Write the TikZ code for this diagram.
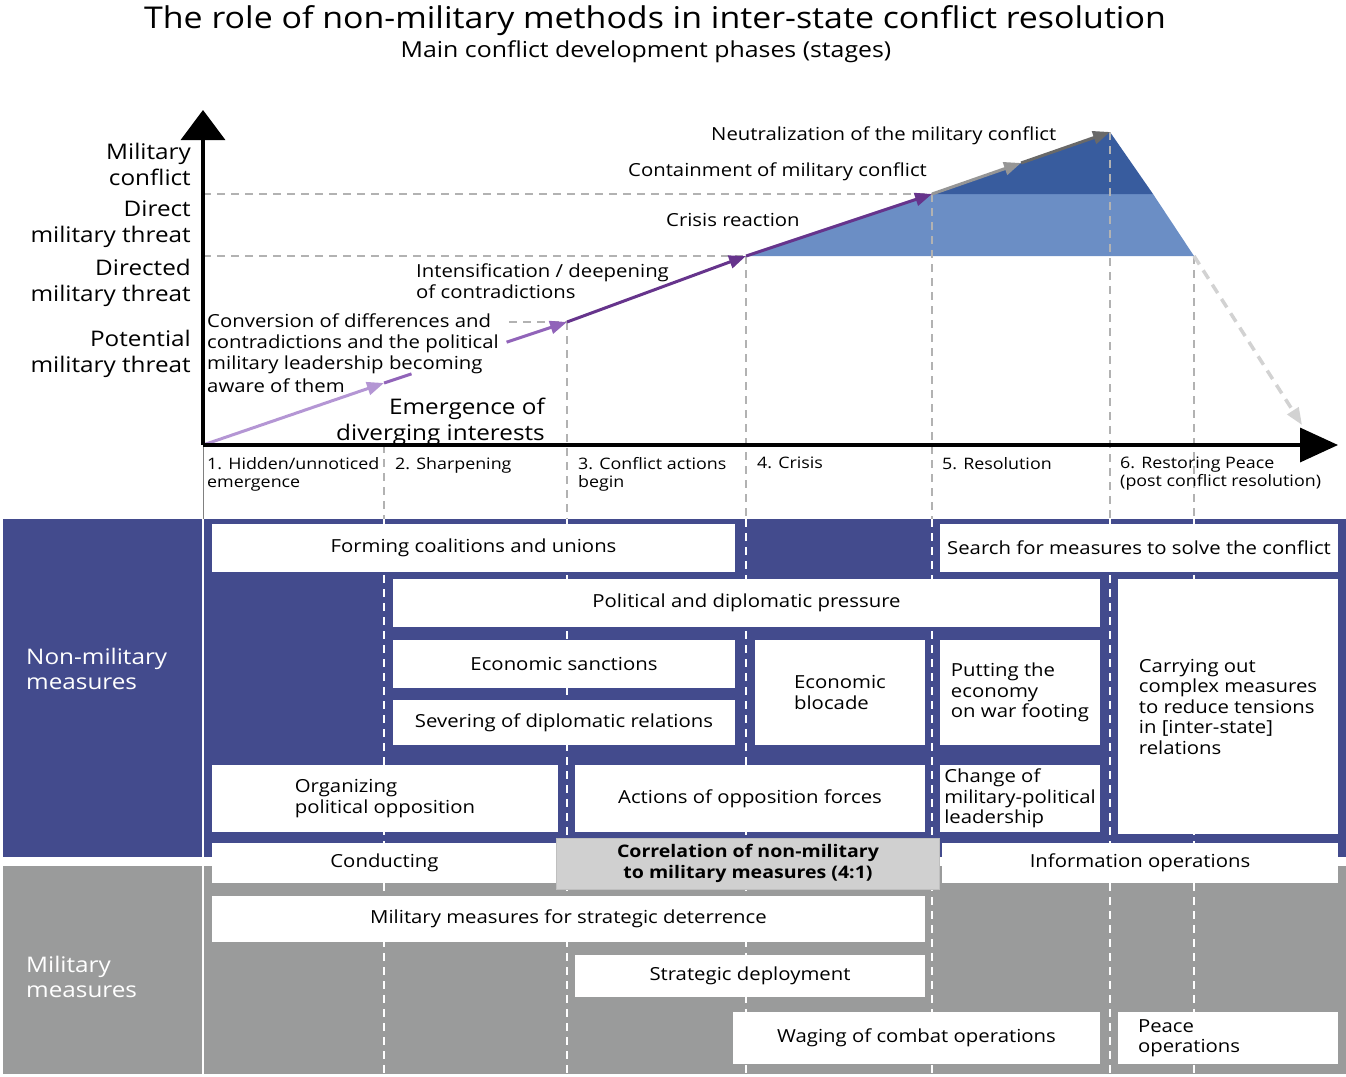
\documentclass[tikz,border=0pt]{standalone}
\usepackage{fontspec}
\setmainfont{Open Sans}[FakeStretch=1.13]
\usetikzlibrary{arrows.meta}
\usetikzlibrary{calc}
\usetikzlibrary{positioning}
\definecolor{nonmilblue}{RGB}{67,75,141}
\definecolor{milgray}{RGB}{154,155,155}
\definecolor{lightfill}{RGB}{107,142,197}
\definecolor{darkfill}{RGB}{56,92,158}
\definecolor{purpleA}{RGB}{180,150,212}
\definecolor{purpleB}{RGB}{145,100,185}
\definecolor{purpleC}{RGB}{102,52,140}
\definecolor{grayA}{RGB}{150,150,150}
\definecolor{grayB}{RGB}{105,105,105}
\definecolor{corrgray}{RGB}{208,208,208}
\tikzset{measure/.style={fill=white,
                         inner sep=2pt,
                         font=\fontsize{18}{20.5}\selectfont}}
\tikzset{phase/.style={dash pattern=on 8pt off 6pt,line width=1.2pt}}
\tikzset{trend/.style={line width=3pt,-{Triangle[length=17pt,width=13pt]}}}
% name, left, top, right, bottom, options, text
\newcommand{\measurebox}[7]{%
  \node [measure,minimum width=#4pt-#2pt,minimum height=#5pt-#3pt,#6]
  (#1) at ({(#2+#4)/2},{(#3+#5)/2}) {#7};}

\begin{document}
\begin{tikzpicture}
      [
      x=1pt,y=-1pt,
      ylevel/.style={align=right,inner sep=0pt,font=\fontsize{21.5}{26}\selectfont},
      chartlabel/.style={inner sep=0pt,font=\fontsize{18}{21}\selectfont},
      stagelabel/.style={align=left,inner sep=0pt,anchor=north west,font=\fontsize{15.8}{18}\selectfont},
      bandlabel/.style={white,align=left,inner sep=0pt,font=\fontsize{21.5}{25}\selectfont},
      ]
      \useasboundingbox (0,0) rectangle (1346,1076);

      % titles
      \node (title) at (655,21) {\fontsize{30}{32}\selectfont The role of non-military methods in inter-state conflict resolution};
      \node (subtitle) at (646,52) {\fontsize{22}{24}\selectfont Main conflict development phases (stages)};

      % points of the curve
      \coordinate (O) at (203,445);
      \coordinate (A) at (384,383);
      \coordinate (B) at (567,322);
      \coordinate (C) at (746,256);
      \coordinate (D) at (932,194);
      \coordinate (E) at (1021,163);
      \coordinate (F) at (1110,132);
      \coordinate (K) at (1153,194);
      \coordinate (G) at (1194,256);
      \coordinate (H) at (1302,425);
      \coordinate (Ytip) at (203,110);
      \coordinate (Xtip) at (1338,445);
      \coordinate (bandtop) at (0,519);
      \coordinate (bandbot) at (0,1074);

      % bands
      \fill [nonmilblue] (3,519) rectangle (1346,857);
      \fill [milgray] (3,866) rectangle (1346,1074);

      % areas
      \fill [lightfill] (C) -- (D) -- (K) -- (G) -- cycle;
      \fill [darkfill] (D) -- (F) -- (K) -- cycle;

      % phase lines
      \draw [phase,gray!60] (O |- C) -- (C);
      \draw [phase,gray!60] (O |- D) -- (D);
      \draw [phase,gray!60] ($(B)+(-58,0)$) -- (B);
      \draw [phase,gray!60] (A |- O) -- (A |- bandtop);
      \draw [phase,white] (A |- bandtop) -- (A |- bandbot);
      \foreach \p in {B,C,D,F,G}
      {
      \draw [phase,gray!60] (\p) -- (\p |- bandtop);
      \draw [phase,white] (\p |- bandtop) -- (\p |- bandbot);
      }
      \draw [gray,line width=0.8pt] (O) -- (O |- bandtop);
      \draw [white,line width=1.5pt] (O |- bandtop) -- (O |- bandbot);

      % curve
      \draw [trend,purpleA] (O) -- (A);
      \draw [line width=3pt,purpleB] (A) -- ($(A)!0.15!(B)$);
      \draw [trend,purpleB] ($(A)!0.67!(B)$) -- (B);
      \draw [trend,purpleC] (B) -- (C);
      \draw [trend,purpleC] (C) -- (D);
      \draw [trend,grayA] (D) -- (E);
      \draw [trend,grayB] (E) -- (F);
      \draw [trend,gray!35,line width=3.5pt,dash pattern=on 10pt off 7pt] (G) -- (H);

      % axes
      \draw [line width=3.5pt,-{Triangle[length=30pt,width=44pt]}] (O) -- (Ytip);
      \draw [line width=3.5pt,-{Triangle[length=38pt,width=34pt]}] (O) -- (Xtip);

      % levels
      \node [ylevel,anchor=east] (milconf) at (191,164) {Military\\conflict};
      \node [ylevel,anchor=east] (direct) at (191,224) {Direct\\military threat};
      \node [ylevel,anchor=east] (directed) at (191,283) {Directed\\military threat};
      \node [ylevel,anchor=east] (potential) at (191,354) {Potential\\military threat};

      % labels of the curve
      \node [chartlabel,anchor=west] (neutral) at (711,136) {Neutralization of the military conflict};
      \node [chartlabel,anchor=west] (contain) at (628,172) {Containment of military conflict};
      \node [chartlabel,anchor=west] (reaction) at (666,220) {Crisis reaction};
      \node [chartlabel,anchor=north west,align=left] (intens) at (416,264)
      {Intensification / deepening\\of contradictions};
      \node [chartlabel,anchor=north west,align=left] (convers) at (207,314)
      {Conversion of differences and\\contradictions and the political\\military leadership becoming\\[2pt]aware of them};
      \node [ylevel,anchor=east] (emerge) at (545,422) {Emergence of\\diverging interests};

      % stages
      \node [stagelabel] (hidden) at (207,457) {1. Hidden/unnoticed\\emergence};
      \node [stagelabel] (sharp) at (395,457) {2. Sharpening};
      \node [stagelabel] (begin) at (578,457) {3. Conflict actions\\begin};
      \node [stagelabel] (crisis) at (757,457) {4. Crisis};
      \node [stagelabel] (resol) at (942,457) {5. Resolution};
      \node [stagelabel] (restore) at (1120,457) {6. Restoring Peace\\(post conflict resolution)};

      % non-military measures
      \measurebox{forming}{212}{524}{735}{572}{align=center}{Forming coalitions and unions}
      \measurebox{search}{940}{524}{1338}{572}{align=center}{Search for measures to solve the conflict}
      \measurebox{pressure}{393}{579}{1100}{627}{align=center}{Political and diplomatic pressure}
      \measurebox{sanctions}{393}{640}{735}{688}{align=center}{Economic sanctions}
      \measurebox{severing}{393}{700}{735}{745}{align=center}{Severing of diplomatic relations}
      \measurebox{blocade}{755}{640}{925}{745}{align=left}{Economic\\blocade}
      \measurebox{footing}{940}{640}{1100}{745}{align=left}{Putting the\\economy\\on war footing}
      \measurebox{tensions}{1118}{579}{1338}{834}{align=left}{Carrying out\\complex measures\\to reduce tensions\\in [inter-state]\\relations}
      \measurebox{opposition}{212}{765}{558}{832}{align=left}{Organizing\\political opposition}
      \measurebox{forces}{575}{765}{925}{832}{align=center}{Actions of opposition forces}
      \measurebox{leadership}{940}{765}{1100}{832}{align=left}{Change of\\military-political\\leadership}
      \measurebox{conducting}{212}{843}{557}{883}{align=center}{Conducting}
      \measurebox{info}{942}{843}{1338}{883}{align=center}{Information operations}

      % military measures
      \measurebox{deterrence}{212}{896}{925}{942}{align=center}{Military measures for strategic deterrence}
      \measurebox{deployment}{575}{955}{925}{997}{align=center}{Strategic deployment}
      \measurebox{combat}{733}{1012}{1100}{1064}{align=center}{Waging of combat operations}
      \measurebox{peace}{1118}{1012}{1338}{1064}{align=left,text width=180pt}{Peace\\operations}

      \node [fill=corrgray,draw=gray!50,minimum width=383pt,minimum height=51pt,align=center,
      font=\fontsize{17.3}{21}\selectfont\bfseries] (ratio) at (748,863.5)
      {Correlation of non-military\\to military measures (4:1)};

      % bands
      \node [bandlabel,anchor=west] (nonmil) at (26,669) {Non-military\\measures};
      \node [bandlabel,anchor=west] (mil) at (26,977) {Military\\measures};

    \end{tikzpicture}
\end{document}
